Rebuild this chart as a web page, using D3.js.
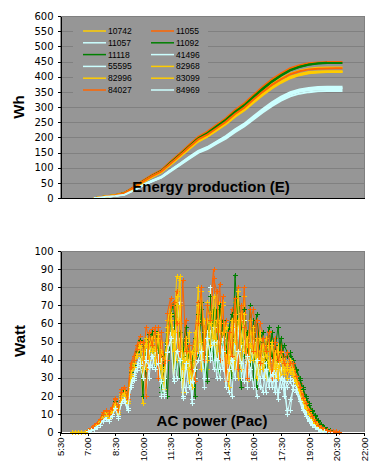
<!DOCTYPE html>
<html><head><meta charset="utf-8">
<script src="https://cdn.jsdelivr.net/npm/d3@7"></script>
<style>body{margin:0;background:#fff}svg{display:block}</style>
</head><body><svg id="c" width="381" height="471"></svg>
<script>
// ---------- data ----------
const seriesNames = ["10742","11055","11057","11092","11118","41496","55595","82968","82996","83099","84027","84969"];
const seriesColors = ["#FFCC00","#FF6600","#CCFFFF","#008000","#008000","#CCFFFF","#CCFFFF","#FFCC00","#FFCC00","#FFCC00","#FF6600","#CCFFFF"];

const energyTimes = ["7:20","7:30","8:00","8:30","9:00","9:30","10:00","10:30","11:00","11:30","12:00","12:30","13:00","13:30","14:00","14:30","15:00","15:30","16:00","16:30","17:00","17:30","18:00","18:30","19:00","19:30","20:00","20:30","20:50"];
const energy10742 = [0,1,5,9,16,34,55,73,88,115,141,168,194,210,231,252,278,300,326,352,375,394,410,420,426,429,430,430,430];
const energy11055 = [0,1,6,10,17,36,57,76,92,120,147,175,202,219,241,263,290,312,340,367,391,411,428,438,444,447,448,448,448];
const energy11057 = [0,0,4,7,12,27,43,57,70,92,113,135,155,168,186,204,226,245,269,293,315,334,349,358,363,366,367,367,367];
const energy11092 = [0,1,5,9,16,34,55,73,89,116,143,170,197,214,236,258,284,306,334,361,385,405,422,433,440,444,446,null,null];
const energy11118 = [0,1,5,9,16,33,54,72,88,115,141,168,195,212,234,256,282,304,331,358,383,403,421,432,439,443,445,445,445];
const energy41496 = [0,0,4,7,12,26,42,56,69,91,112,133,153,166,184,202,224,243,266,290,312,330,345,354,359,362,363,363,363];
const energy55595 = [0,0,4,7,12,26,42,56,68,90,110,131,151,164,182,200,221,240,263,287,308,326,341,350,355,358,359,359,359];
const energy82968 = [0,1,5,9,15,33,53,71,86,112,137,163,189,205,225,246,271,292,318,343,365,384,400,409,415,417,418,418,418];
const energy82996 = [0,1,5,9,15,32,52,70,85,111,136,162,187,203,224,244,269,290,316,341,363,382,397,407,412,415,416,416,416];
const energy83099 = [0,1,5,9,15,32,52,69,85,110,135,161,186,202,223,243,268,289,314,339,361,380,395,405,411,414,415,415,415];
const energy84027 = [0,1,5,9,16,34,54,72,88,114,140,167,193,209,230,251,277,298,325,350,373,392,408,418,424,426,427,428,428];
const energy84969 = [0,0,4,7,11,25,41,55,67,88,108,129,149,161,179,196,217,236,259,282,303,321,335,344,349,352,353,353,353];

// power samples: one every 10 minutes from 6:10
const powerStart = "6:10";
const powerStepMinutes = 10;
const power10742 = [0,0,0,0,0,
  1,1.5,3,4,6,9,11,9,12,16,11,20,22,17,33,38,44,48,
  16,50,46,55,52,42,50,30,62,68,50,86,84,22,45,55,30,50,80,45,62,35,78,58,
  50,72,38,60,55,30,72,40,60,75,28,55,50,35,55,48,30,50,42,30,48,40,35,38,
  36,34,29,24,19,15,12,9,6,4,2.5,1.5,1,0.5,0.3,null,null];
const power11055 = [null,null,null,null,null,
  1,2,4,5,7,11,12,11,14,19,13,24,25,21,38,42,48,53,
  32,58,52,57,40,58,44,25,66,74,46,78,60,40,62,30,45,55,72,60,58,52,70,90,
  55,82,45,62,30,68,60,80,50,80,45,62,68,40,60,55,38,56,50,52,35,48,42,30,
  40,36,30,27,21,17,13,9.5,7,5,3,2,1.2,1,0.8,0.5,0];
const power11057 = [null,null,null,null,null,
  0.5,1,2,3,4,7,8,7,10,14,9,18,19,13,28,32,37,42,
  38,45,44,48,40,46,30,22,50,58,40,52,72,25,45,35,18,42,55,40,50,30,80,45,
  45,58,35,50,22,45,60,42,55,30,50,35,45,20,42,30,35,40,25,38,30,35,20,28,
  30,28,26,20,15,11,7,5,3,2,1,0.5,0.3,null,null,null,null];
const power11092 = [null,null,null,null,null,
  1,1,3,4,6,10,11,9,12,17,11,21,23,18,34,38,45,51,
  20,52,50,55,35,54,25,42,20,64,72,30,55,42,50,25,40,20,65,72,30,62,45,68,
  35,70,48,55,40,30,87,55,25,68,40,70,30,65,48,40,52,30,55,45,58,40,48,44,
  42,40,35,30,25,20,16,12,9.5,6.6,4.5,3,1.8,1,0.5,null,null];
const power11118 = [null,null,null,null,null,
  1,1,3,4,6,10,11,9,12,17,11,21,22,17,33,37,44,50,
  48,30,54,44,56,48,22,40,58,66,35,70,30,46,58,40,38,52,40,68,45,28,75,40,
  68,30,62,44,58,65,40,75,60,42,55,35,62,25,50,55,35,58,42,48,38,52,40,42,
  44,38,34,29,24,19,15,11.5,9,6,4,2.5,1.5,0.8,0.3,null,null];
const power41496 = [null,null,null,null,null,
  0.5,1,2,3,4,7,8,7,10,14,9,17,18,12,27,31,36,40,
  42,20,40,36,45,30,40,20,48,55,28,62,40,20,36,40,25,30,62,35,42,55,40,58,
  30,50,45,35,40,20,52,35,48,62,25,45,40,30,38,42,22,38,30,35,18,32,28,12,
  12,26,24,19,14,10,7,5,3,2,1,0.5,0.2,null,null,null,null];
const power55595 = [null,null,null,null,null,
  0.5,1,2,3,4,6,8,6,9,13,9,17,18,12,26,30,36,38,
  35,42,30,45,38,42,20,30,45,50,55,30,52,35,22,40,16,38,45,50,30,48,55,35,
  50,35,52,30,45,35,42,58,30,50,42,30,50,35,25,40,38,28,35,22,38,25,30,25,
  28,24,22,18,13,9,6.5,4.5,3,1.5,1,0.5,0.2,null,null,null,null];
const power82968 = [null,null,null,null,null,
  1,1.5,3,4.5,6,9,11,9,12,16,11,21,22,18,34,38,43,49,
  45,35,48,52,38,54,36,24,58,70,45,62,86,40,50,28,44,48,62,50,40,72,60,52,
  78,55,70,42,25,62,50,78,35,58,48,62,40,52,30,48,42,38,50,35,45,30,40,36,
  40,34,28,23,18,14,11,8,5.5,3.5,2,1.2,0.8,0.4,null,null,null];
const power82996 = [null,null,null,null,null,
  1,1.5,3,4,6,9,10,9,11,16,11,20,22,17,32,36,43,47,
  40,48,52,45,55,35,45,40,50,65,30,75,45,22,52,35,30,55,45,78,55,40,66,48,
  62,45,55,58,38,50,65,30,66,45,52,40,58,30,45,40,52,35,48,42,30,44,38,30,
  35,32,28,22,17,14,11,8,5.5,3.5,2,1.2,0.7,0.3,null,null,null];
const power83099 = [null,null,null,null,null,
  1,1.5,3,4,6,9,10,8,11,15,10,19,21,16,31,36,42,48,
  30,52,40,50,46,52,30,35,55,62,55,40,70,35,40,45,25,42,70,35,50,62,48,75,
  40,60,72,35,45,58,35,62,50,65,38,48,55,40,52,35,45,48,30,44,36,40,32,35,
  33,31,27,22,17,13,10,7.5,5,3,2,1,0.6,0.3,null,null,null];
const power84027 = [null,null,null,null,null,
  1,2,3,5,7,10,12,10,13,18,12,22,25,18,36,40,46,50,
  50,20,55,48,58,30,55,38,40,70,72,60,40,84,45,48,35,28,60,80,40,70,62,85,
  78,40,75,28,55,42,74,35,70,58,30,68,45,62,38,52,45,55,30,50,40,45,38,44,
  38,38,31,25,19,16,12,9,6,4,2.5,1.5,1,0.6,0.4,0,0];
const power84969 = [null,null,null,null,null,
  0.5,1,1.5,3,4,6,7,6,9,13,8,16,17,12,25,29,34,37,
  30,40,36,42,35,38,28,21,44,52,30,45,40,19,38,25,28,35,40,45,25,52,42,50,
  40,30,45,25,35,40,30,45,38,28,42,35,25,40,30,22,35,25,32,28,22,30,25,10,
  18,24,22,17,12,9,6,4,2.5,1.5,0.8,0.3,null,null,null,null,null];

const timeTickLabels = ["5:30","7:00","8:30","10:00","11:30","13:00","14:30","16:00","17:30","19:00","20:30","22:00"];
const energyTicks = [0,50,100,150,200,250,300,350,400,450,500,550,600];
const powerTicks = [0,10,20,30,40,50,60,70,80,90,100];
const energyTitle = "Energy production (E)";
const powerTitle = "AC power (Pac)";
const energyAxisTitle = "Wh";
const powerAxisTitle = "Watt";

const energySeries = [energy10742,energy11055,energy11057,energy11092,energy11118,energy41496,energy55595,energy82968,energy82996,energy83099,energy84027,energy84969];
const powerSeries = [power10742,power11055,power11057,power11092,power11118,power41496,power55595,power82968,power82996,power83099,power84027,power84969];

// ---------- drawing ----------
const hrs = s => { const [h,m] = s.split(":").map(Number); return h + m/60; };
const svg = d3.select("#c");
const BG = "#969696", GRID = "#808080";
const X0 = 60, X1 = 364;
const x = d3.scaleLinear().domain([hrs(timeTickLabels[0]), hrs(timeTickLabels[timeTickLabels.length-1])]).range([X0, X1]);
const yE = d3.scaleLinear().domain([0,600]).range([198,16]);
const yP = d3.scaleLinear().domain([0,100]).range([432,251]);

function panel(y, ticks) {
  const g = svg.append("g");
  const top = y(ticks[ticks.length-1]), bot = y(0);
  g.append("rect").attr("x",X0).attr("y",top).attr("width",X1-X0).attr("height",bot-top).attr("fill",BG);
  g.selectAll("line.grid").data(ticks.slice(1)).join("line")
    .attr("x1",X0).attr("x2",X1).attr("y1",d=>Math.round(y(d))+0.5).attr("y2",d=>Math.round(y(d))+0.5)
    .attr("stroke",GRID).attr("stroke-width",1);
  g.append("line").attr("x1",X1+0.5).attr("x2",X1+0.5).attr("y1",top).attr("y2",bot).attr("stroke",GRID);
  return g;
}
function yAxis(y, ticks) {
  const ax = svg.append("g").attr("transform",`translate(${X0+0.5},0)`)
    .call(d3.axisLeft(y).tickValues(ticks).tickSize(3).tickSizeOuter(0).tickPadding(4));
  ax.selectAll("line,path").attr("stroke","#000").attr("shape-rendering","crispEdges");
  ax.selectAll("text").attr("fill","#000").style("font-family","'DejaVu Sans'").style("font-size","10px");
  return ax;
}

// top panel
panel(yE, energyTicks);
// legend box
const lg = svg.append("g");
lg.append("rect").attr("x",73).attr("y",21).attr("width",135).attr("height",79).attr("fill",BG);
seriesNames.forEach((n,i) => {
  const col = i % 2, row = Math.floor(i/2);
  const ly = 31 + row*11.8;
  const lx = col === 0 ? 83 : 151;
  lg.append("line").attr("x1",lx).attr("x2",lx+23).attr("y1",ly).attr("y2",ly)
    .attr("stroke",seriesColors[i]).attr("stroke-width",1.5);
  lg.append("text").attr("x",lx+25).attr("y",ly).attr("dy","0.35em").text(n)
    .style("font-family","'Liberation Sans',Arial,sans-serif").style("font-size","8.5px").attr("fill","#000");
});
const eLine = d3.line().defined(d=>d[1]!=null).x(d=>x(hrs(d[0]))).y(d=>yE(d[1]));
energySeries.forEach((s,i) => {
  svg.append("path").datum(energyTimes.map((t,k)=>[t,s[k]])).attr("d",eLine)
    .attr("fill","none").attr("stroke",seriesColors[i]).attr("stroke-width",2);
});
yAxis(yE, energyTicks);
svg.append("line").attr("x1",X0).attr("x2",X1+1).attr("y1",198.5).attr("y2",198.5).attr("stroke","#000");
svg.append("text").attr("x",211).attr("y",192).attr("text-anchor","middle").text(energyTitle)
  .style("font-family","'Liberation Sans',Arial,sans-serif").style("font-weight","bold").style("font-size","15px");
svg.append("text").attr("transform","translate(24,107) rotate(-90)").attr("text-anchor","middle").text(energyAxisTitle)
  .style("font-family","'Liberation Sans',Arial,sans-serif").style("font-weight","bold").style("font-size","15px");

// bottom panel
panel(yP, powerTicks);
const t0 = hrs(powerStart);
const pLine = d3.line().defined(d=>d[1]!=null).x(d=>x(d[0])).y(d=>yP(d[1]));
powerSeries.forEach((s,i) => {
  const pts = s.map((v,k)=>[t0 + k*powerStepMinutes/60, v]);
  const g = svg.append("g");
  g.append("path").datum(pts).attr("d",pLine).attr("fill","none").attr("stroke",seriesColors[i]).attr("stroke-width",1);
  g.selectAll("path.m").data(pts.filter(d=>d[1]!=null)).join("path").attr("class","m")
    .attr("transform",d=>`translate(${Math.round(x(d[0]))+0.5},${Math.round(yP(d[1]))+0.5})`)
    .attr("d","M-2.5,0H2.5M0,-2.5V2.5").attr("stroke",seriesColors[i]).attr("stroke-width",1);
});
yAxis(yP, powerTicks);
const xa = svg.append("g").attr("transform",`translate(0,${432.5})`)
  .call(d3.axisBottom(x).tickValues(timeTickLabels.map(hrs)).tickFormat((d,i)=>timeTickLabels[i]).tickSize(3).tickSizeOuter(0));
xa.selectAll("line,path").attr("stroke","#000").attr("shape-rendering","crispEdges");
xa.selectAll("text").attr("fill","#000").attr("transform","rotate(-90)").attr("text-anchor","end")
  .attr("x",-5).attr("y",0).attr("dy","0.35em")
  .style("font-family","'Liberation Sans',Arial,sans-serif").style("font-size","9.5px");
svg.append("text").attr("x",212).attr("y",426).attr("text-anchor","middle").text(powerTitle)
  .style("font-family","'Liberation Sans',Arial,sans-serif").style("font-weight","bold").style("font-size","15px");
svg.append("text").attr("transform","translate(25,341) rotate(-90)").attr("text-anchor","middle").text(powerAxisTitle)
  .style("font-family","'Liberation Sans',Arial,sans-serif").style("font-weight","bold").style("font-size","15px");
</script></body></html>
